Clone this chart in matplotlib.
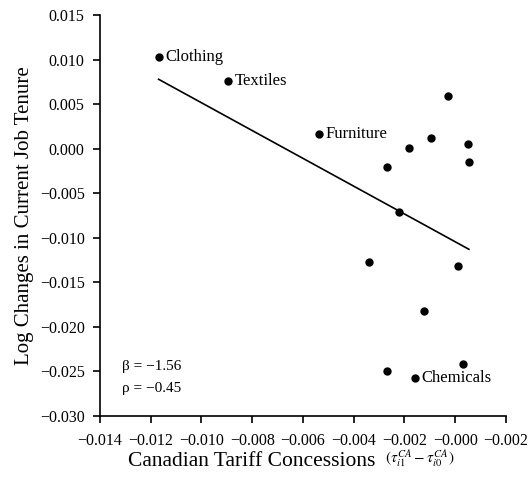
import matplotlib
matplotlib.use('Agg')
import matplotlib.pyplot as plt

plt.rcParams['font.family'] = ['Liberation Serif', 'DejaVu Serif']
plt.rcParams['mathtext.fontset'] = 'stix'

# tariff concessions (x) and log change in job tenure (y)
tariff = [-0.01169, -0.00897, -0.00538, -0.00027, -0.00094, -0.00181, 0.00050,
          0.00055, -0.00269, -0.00222, -0.00341, 0.00012, -0.00124, 0.00029,
          -0.00270, -0.00159]
tenure = [0.01025, 0.00756, 0.00165, 0.00588, 0.00120, 0.00011, 0.00049,
          -0.00146, -0.00209, -0.00714, -0.01275, -0.01320, -0.01822, -0.02413,
          -0.02492, -0.02570]
names = ['Clothing', 'Textiles', 'Furniture', '', '', '', '', '', '', '',
         '', '', '', '', '', 'Chemicals']

# fitted line
beta = -1.56
intercept = -0.01045
fit_x = [-0.01169, 0.00054]

x_ticks = [-0.014, -0.012, -0.010, -0.008, -0.006, -0.004, -0.002, 0.000, 0.002]
x_labels = ['\u22120.014', '\u22120.012', '\u22120.010', '\u22120.008', '\u22120.006',
            '\u22120.004', '\u22120.002', '\u22120.000', '\u22120.002']
y_ticks = [0.015, 0.010, 0.005, 0.000, -0.005, -0.010, -0.015, -0.020, -0.025, -0.030]
y_labels = ['0.015', '0.010', '0.005', '0.000', '\u22120.005', '\u22120.010',
            '\u22120.015', '\u22120.020', '\u22120.025', '\u22120.030']

fig = plt.figure(figsize=(5.28, 4.79), dpi=100)
ax = fig.add_axes([0.1894, 0.1315, 0.7689, 0.8372])

ax.plot(tariff, tenure, 'o', color='black', markersize=5)
ax.plot(fit_x, [intercept + beta * v for v in fit_x], color='black', linewidth=1.2)

for x, y, n in zip(tariff, tenure, names):
    if n:
        ax.annotate(n, (x, y), xytext=(5, 0), textcoords='offset points',
                    va='center', ha='left', fontsize=12)

ax.text(0.054, 0.115, '\u03b2 = \u22121.56', transform=ax.transAxes, fontsize=11)
ax.text(0.054, 0.06, '\u03c1 = \u22120.45', transform=ax.transAxes, fontsize=11)

ax.set_xlim(-0.014, 0.002)
ax.set_ylim(-0.030, 0.015)
ax.set_xticks(x_ticks)
ax.set_xticklabels(x_labels)
ax.set_yticks(y_ticks)
ax.set_yticklabels(y_labels)
ax.tick_params(direction='out', length=5, width=1.2, labelsize=11.5, pad=6)
ax.tick_params(axis='x', pad=7)

for s in ['top', 'right']:
    ax.spines[s].set_visible(False)
for s in ['left', 'bottom']:
    ax.spines[s].set_linewidth(1.2)

ax.set_ylabel('Log Changes in Current Job Tenure', fontsize=15, labelpad=4)
fig.text(128 / 528, 1 - 461 / 479, 'Canadian Tariff Concessions', fontsize=15.5,
         ha='left', va='center')
fig.text(385 / 528, 1 - 459 / 479, r'$(\tau_{i1}^{CA}-\tau_{i0}^{CA})$', fontsize=11,
         ha='left', va='center')

fig.savefig('out.png', dpi=100)
